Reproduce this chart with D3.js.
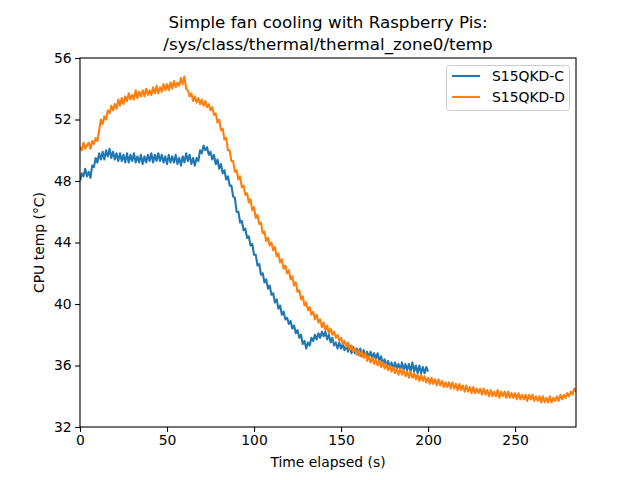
<!DOCTYPE html>
<html>
<head>
<meta charset="utf-8">
<script src="https://cdn.jsdelivr.net/npm/d3@7"></script>
<style>
  html, body { margin: 0; padding: 0; background: #fff; }
  svg { display: block; font-family: "DejaVu Sans", sans-serif; }
</style>
</head>
<body>
<svg id="chart" width="640" height="480"></svg>
<script>
// Data: one sample per second (index = seconds elapsed)
const seriesNames = ["S15QKD-C", "S15QKD-D"];
const tempC = [
48.0,48.5,48.3,48.8,48.3,48.6,48.2,49.0,48.9,49.5,
49.2,49.8,49.4,49.9,49.4,50.0,49.6,50.1,49.5,49.9,
49.4,49.8,49.3,49.8,49.3,49.7,49.2,49.8,49.2,49.7,
49.3,49.8,49.2,49.6,49.2,49.7,49.1,49.6,49.2,49.7,
49.3,49.8,49.2,49.7,49.3,49.8,49.3,49.7,49.2,49.6,
49.1,49.7,49.2,49.6,49.2,49.7,49.1,49.5,49.0,49.6,
49.2,49.8,49.3,49.7,49.1,49.5,49.0,49.5,49.3,50.0,
49.8,50.3,50.0,50.2,49.7,49.9,49.4,49.7,49.1,49.4,
48.8,49.1,48.5,48.7,48.1,48.3,47.7,47.7,47.0,46.9,
46.0,46.0,45.3,45.4,44.8,44.9,44.3,44.4,43.8,43.9,
43.2,43.2,42.5,42.6,41.9,42.0,41.4,41.6,41.0,41.2,
40.6,40.7,40.1,40.3,39.7,39.9,39.3,39.5,39.0,39.1,
38.7,38.9,38.4,38.6,38.1,38.3,37.8,38.0,37.4,37.6,
37.1,37.5,37.3,37.8,37.6,38.0,37.7,38.1,37.8,38.2,
37.9,38.2,37.7,38.0,37.5,37.8,37.3,37.5,37.1,37.5,
37.1,37.4,37.0,37.3,36.9,37.3,36.8,37.2,36.8,37.1,
36.7,37.1,36.6,37.0,36.6,36.9,36.5,36.9,36.5,36.8,
36.4,36.8,36.3,36.6,36.1,36.4,35.9,36.3,35.9,36.2,
35.8,36.2,35.8,36.1,35.7,36.2,35.7,36.1,35.7,36.1,
35.6,36.2,35.6,36.0,35.5,36.0,35.5,35.9,35.5,35.9,
35.6
];
const tempD = [
50.2,50.0,50.5,50.1,50.3,50.5,50.1,50.6,50.4,50.8,
50.6,51.3,52.0,51.7,52.2,52.0,52.6,52.4,52.9,52.6,
53.0,52.7,53.3,52.9,53.4,53.0,53.5,53.2,53.7,53.3,
53.6,53.3,53.9,53.4,53.8,53.5,53.9,53.5,54.0,53.6,
53.9,53.6,54.1,53.7,54.2,53.7,54.1,53.8,54.3,53.9,
54.3,53.9,54.4,54.0,54.5,54.1,54.4,54.2,54.7,54.3,
54.8,54.0,53.9,53.5,53.7,53.2,53.5,53.1,53.4,53.0,
53.3,52.9,53.2,52.8,53.0,52.6,52.8,52.3,52.4,51.8,
52.0,51.3,51.4,50.7,50.8,50.0,50.0,49.3,49.3,48.6,
48.7,48.1,48.3,47.6,47.7,47.1,47.2,46.6,46.8,46.1,
46.3,45.6,45.8,45.2,45.3,44.6,44.7,44.1,44.3,43.8,
44.0,43.5,43.7,43.1,43.3,42.7,42.9,42.3,42.5,42.0,
42.2,41.6,41.8,41.2,41.4,40.8,40.9,40.3,40.5,39.9,
40.1,39.6,39.8,39.3,39.5,39.0,39.3,38.8,39.0,38.5,
38.8,38.3,38.6,38.1,38.4,38.0,38.2,37.8,38.0,37.6,
37.8,37.4,37.6,37.2,37.5,37.0,37.3,36.9,37.1,36.7,
37.0,36.6,36.9,36.5,36.8,36.3,36.6,36.2,36.5,36.1,
36.4,36.0,36.3,35.9,36.2,35.8,36.1,35.7,36.0,35.6,
35.9,35.5,35.8,35.4,35.8,35.4,35.7,35.3,35.6,35.2,
35.6,35.2,35.5,35.1,35.4,35.0,35.4,35.0,35.3,34.9,
35.2,34.8,35.2,34.8,35.1,34.7,35.1,34.7,35.0,34.6,
34.9,34.6,34.9,34.5,34.9,34.5,34.8,34.4,34.8,34.4,
34.7,34.3,34.7,34.3,34.6,34.2,34.6,34.2,34.5,34.2,
34.5,34.1,34.5,34.1,34.4,34.0,34.4,34.0,34.3,34.0,
34.4,33.9,34.3,34.0,34.3,33.9,34.3,33.9,34.2,33.9,
34.2,33.8,34.2,33.8,34.1,33.8,34.1,33.7,34.1,33.8,
34.1,33.7,34.0,33.7,34.0,33.6,34.0,33.6,33.9,33.6,
34.0,33.6,33.9,33.7,34.0,33.7,34.1,33.8,34.1,33.9,
34.2,34.0,34.3,34.1,34.5,34.3
];
const xTicks = [0, 50, 100, 150, 200, 250];
const yTicks = [32, 36, 40, 44, 48, 52, 56];
const titleLines = ["Simple fan cooling with Raspberry Pis:", "/sys/class/thermal/thermal_zone0/temp"];
const xLabel = "Time elapsed (s)";
const yLabel = "CPU temp (°C)";

const colors = ["#1f77b4", "#ff7f0e"];
const svg = d3.select("#chart");
const m = { left: 80, right: 576, top: 58, bottom: 427 };

const x = d3.scaleLinear().domain([0, 285]).range([m.left, m.right]);
const y = d3.scaleLinear().domain([32, 56]).range([m.bottom, m.top]);

svg.append("defs").append("clipPath").attr("id", "clip")
  .append("rect").attr("x", m.left).attr("y", m.top)
  .attr("width", m.right - m.left).attr("height", m.bottom - m.top);

const line = d3.line().x((d, i) => x(i)).y(d => y(d));
const g = svg.append("g").attr("clip-path", "url(#clip)");
[tempC, tempD].forEach((s, k) => {
  g.append("path").datum(s)
    .attr("fill", "none")
    .attr("stroke", colors[k])
    .attr("stroke-width", 2.1)
    .attr("stroke-linejoin", "round")
    .attr("d", line);
});

// axes
const xAxis = svg.append("g").attr("transform", `translate(0,${m.bottom})`)
  .call(d3.axisBottom(x).tickValues(xTicks).tickSize(4.9).tickPadding(3.5));
const yAxis = svg.append("g").attr("transform", `translate(${m.left},0)`)
  .call(d3.axisLeft(y).tickValues(yTicks).tickSize(4.9).tickPadding(3.5));
[xAxis, yAxis].forEach(a => {
  a.select(".domain").remove();
  a.selectAll("line").attr("stroke", "#000").attr("stroke-width", 1.1);
  a.selectAll("text").attr("font-size", "13.9px").attr("fill", "#000")
    .attr("font-family", "DejaVu Sans, sans-serif");
});

// frame
svg.append("rect").attr("x", m.left).attr("y", m.top)
  .attr("width", m.right - m.left).attr("height", m.bottom - m.top)
  .attr("fill", "none").attr("stroke", "#000").attr("stroke-width", 1.1);

// title
const cx = (m.left + m.right) / 2;
titleLines.forEach((t, i) => {
  svg.append("text").attr("x", cx).attr("y", 28 + i * 22)
    .attr("text-anchor", "middle").attr("font-size", "16.7px").text(t);
});

svg.append("text").attr("x", cx).attr("y", 467)
  .attr("text-anchor", "middle").attr("font-size", "13.9px").text(xLabel);
svg.append("text").attr("transform", `translate(44,${(m.top + m.bottom) / 2}) rotate(-90)`)
  .attr("text-anchor", "middle").attr("font-size", "13.9px").text(yLabel);

// legend
const lg = svg.append("g");
lg.append("rect").attr("x", 446.5).attr("y", 65.5).attr("width", 123).attr("height", 45)
  .attr("rx", 3).attr("fill", "#fff").attr("fill-opacity", 0.8)
  .attr("stroke", "#ccc").attr("stroke-width", 1);
seriesNames.forEach((n, i) => {
  const yy = 76 + i * 21;
  lg.append("line").attr("x1", 452).attr("x2", 480).attr("y1", yy).attr("y2", yy)
    .attr("stroke", colors[i]).attr("stroke-width", 2.1);
  lg.append("text").attr("x", 492).attr("y", yy + 5).attr("font-size", "13.9px").text(n);
});
</script>
</body>
</html>
